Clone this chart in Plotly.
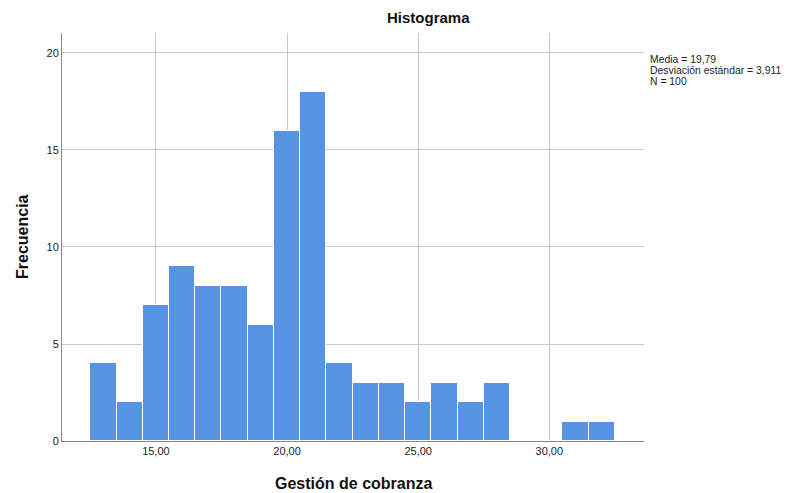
import plotly.graph_objects as go

bin_centers = [13, 14, 15, 16, 17, 18, 19, 20, 21, 22, 23, 24, 25, 26, 27, 28, 29, 30, 31, 32]
frequencies = [4, 2, 7, 9, 8, 8, 6, 16, 18, 4, 3, 3, 2, 3, 2, 3, 0, 0, 1, 1]
x_tick_vals = [15, 20, 25, 30]
x_tick_text = ["15,00", "20,00", "25,00", "30,00"]
y_tick_vals = [0, 5, 10, 15, 20]
stats_lines = ["Media = 19,79", "Desviación estándar = 3,911", "N = 100"]

FONT = "Liberation Sans, Arial, sans-serif"

fig = go.Figure(go.Bar(
    x=bin_centers, y=frequencies, width=1,
    marker=dict(color="#5694E3", line=dict(color="white", width=1)),
    hoverinfo="x+y",
))

# page body has an 8px margin, so shrink the figure by 8px to fit the window
OFF = 8
W, H = 791 - OFF, 493 - OFF
L, T = 62 - OFF, 33 - OFF
pw, ph = 582, 408
R = W - L - pw
B = H - T - ph

def px(x):
    return (x - 62) / pw

def py(y):
    return (441 - y) / ph

annotations = [
    dict(text="<b>Histograma</b>", xref="paper", yref="paper",
         x=px(428), y=py(18), xanchor="center", yanchor="middle",
         showarrow=False, font=dict(size=15, color="#111", family=FONT)),
    dict(text="<b>Gestión de cobranza</b>", xref="paper", yref="paper",
         x=px(353), y=py(483), xanchor="center", yanchor="middle",
         showarrow=False, font=dict(size=16, color="#111", family=FONT)),
    dict(text="<b>Frecuencia</b>", xref="paper", yref="paper",
         x=px(22), y=py(237), xanchor="center", yanchor="middle",
         textangle=-90, showarrow=False, font=dict(size=16, color="#111", family=FONT)),
]
for i, line in enumerate(stats_lines):
    annotations.append(dict(
        text=line, xref="paper", yref="paper",
        x=px(649), y=py(60 + 10.5 * i), xanchor="left", yanchor="middle",
        align="left", showarrow=False, borderpad=0,
        font=dict(size=10.4, color="#222", family=FONT)))

fig.update_layout(
    width=W, height=H,
    margin=dict(l=L, r=R, t=T, b=B),
    paper_bgcolor="white", plot_bgcolor="white",
    showlegend=False,
    bargap=0,
    font=dict(family=FONT, size=11, color="#222"),
    xaxis=dict(
        range=[11.42, 33.61], tickvals=x_tick_vals, ticktext=x_tick_text,
        showgrid=True, gridcolor="#c8c8c8", gridwidth=1,
        showline=True, linecolor="#888", linewidth=1,
        ticks="", zeroline=False, tickfont=dict(size=11, color="#222"),
    ),
    yaxis=dict(
        range=[0, 21.03], tickvals=y_tick_vals,
        showgrid=True, gridcolor="#c8c8c8", gridwidth=1,
        showline=True, linecolor="#888", linewidth=1,
        ticks="", zeroline=False, tickfont=dict(size=11, color="#222"),
    ),
    annotations=annotations,
)

fig.write_html("out.html")
